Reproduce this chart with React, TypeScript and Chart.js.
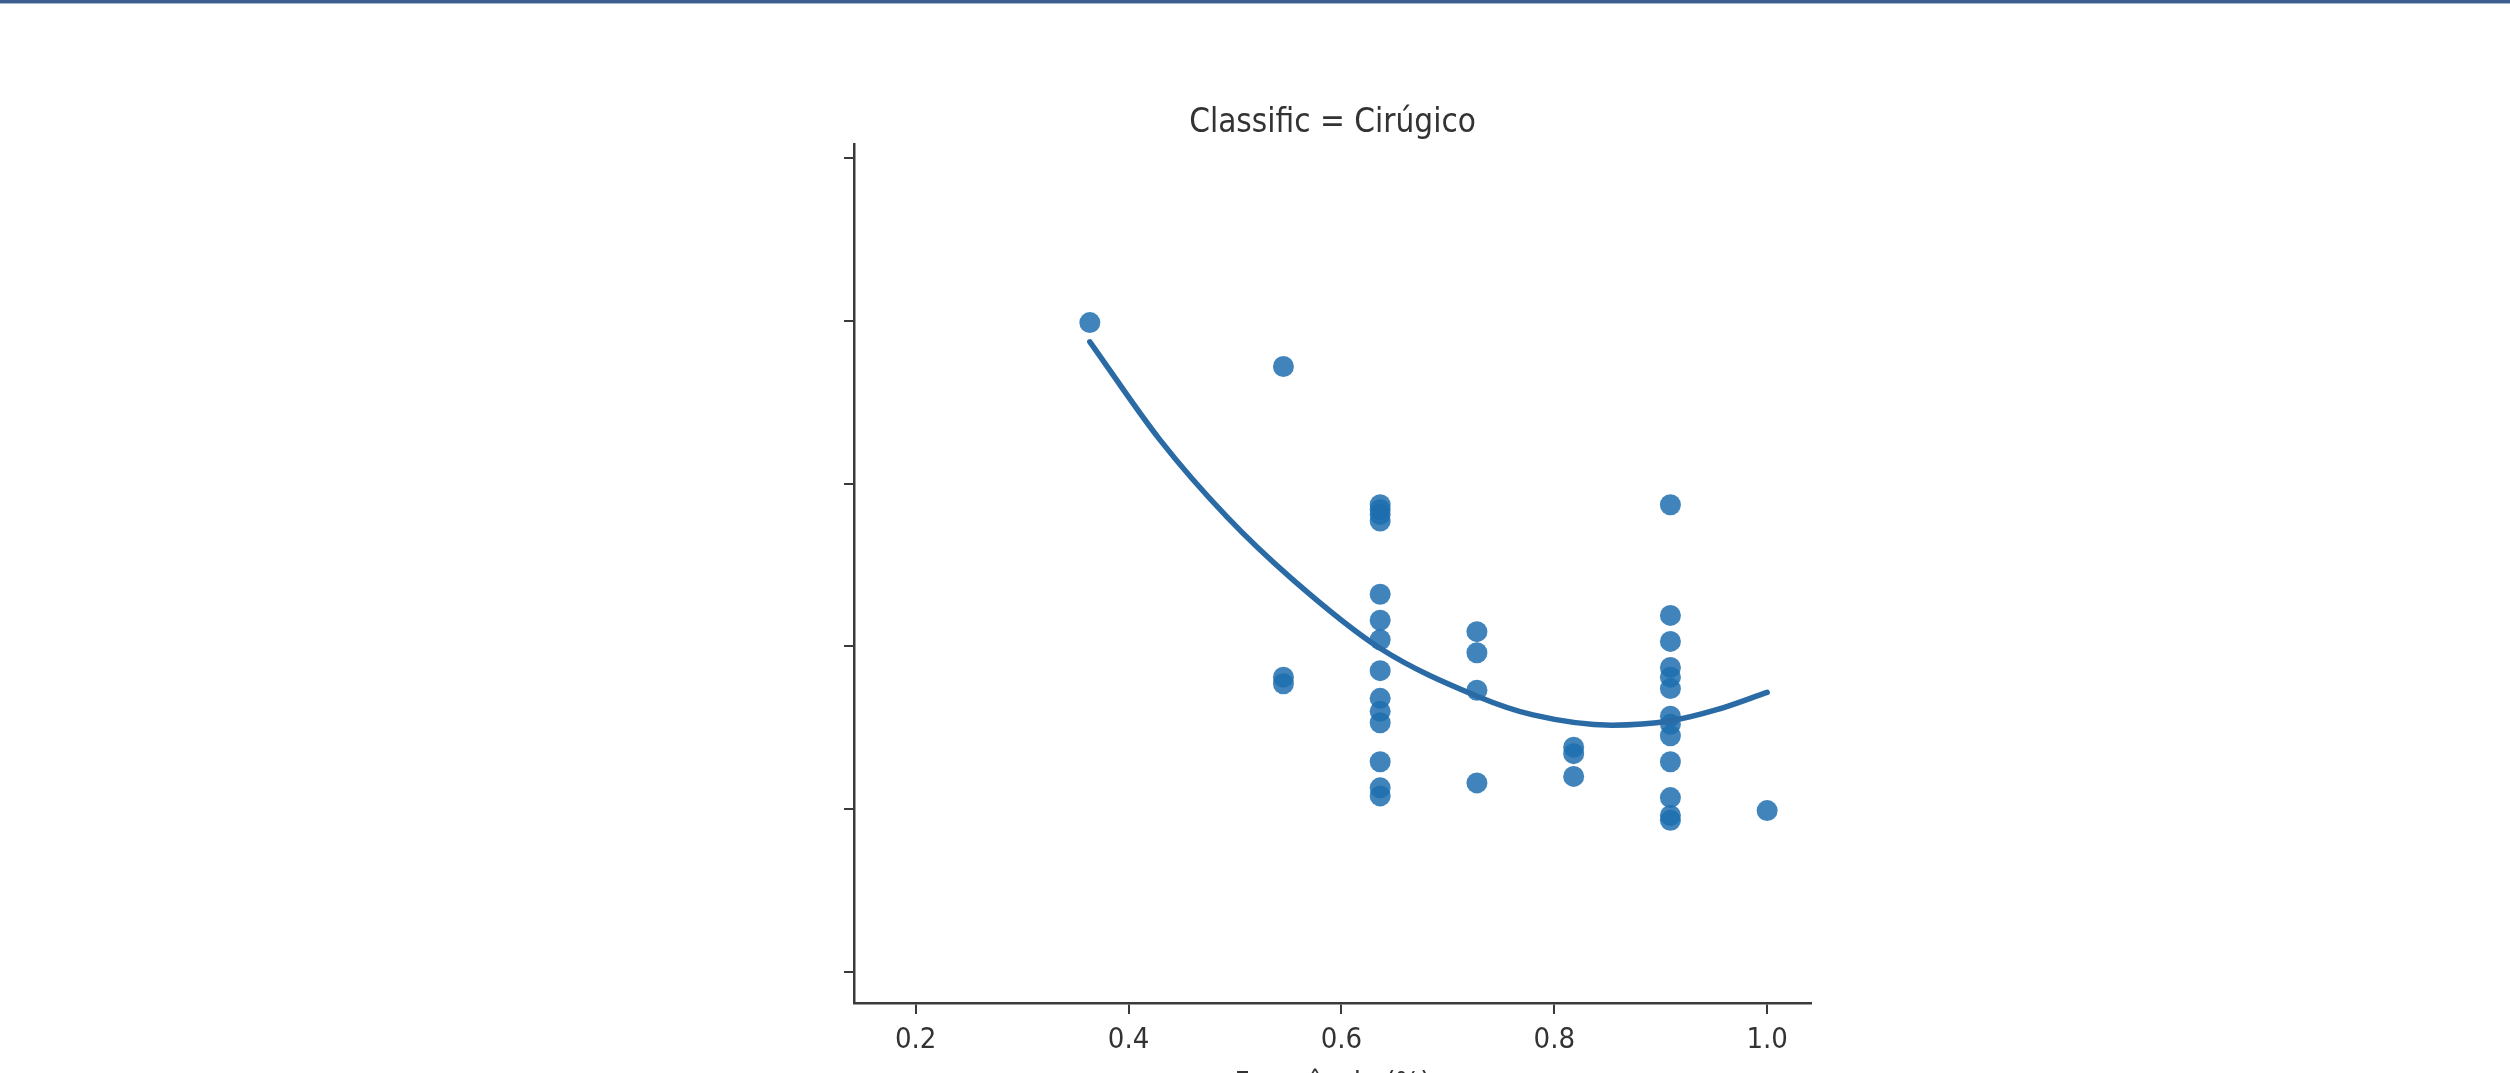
import React, { useEffect, useRef } from 'react';
import { Chart, registerables } from 'chart.js';

Chart.register(...registerables);

const titleText = 'Classific = Cirúgico';
const xAxisLabel = 'Frequência (%)';
const xTickValues = [0.2, 0.4, 0.6, 0.8, 1.0];
const yTickValues = [0, 10, 20, 30, 40, 50];

const pointX = [
  0.3636,
  0.5455, 0.5455, 0.5455,
  0.6364, 0.6364, 0.6364, 0.6364, 0.6364, 0.6364, 0.6364, 0.6364, 0.6364, 0.6364, 0.6364, 0.6364, 0.6364, 0.6364,
  0.7273, 0.7273, 0.7273, 0.7273,
  0.8182, 0.8182, 0.8182,
  0.9091, 0.9091, 0.9091, 0.9091, 0.9091, 0.9091, 0.9091, 0.9091, 0.9091, 0.9091, 0.9091, 0.9091, 0.9091,
  1.0,
];
const pointY = [
  39.9,
  37.2, 18.1, 17.7,
  28.7, 28.4, 28.1, 27.7, 23.2, 21.6, 20.4, 18.5, 16.8, 16.0, 15.3, 12.9, 11.3, 10.8,
  20.9, 19.6, 17.3, 11.6,
  13.8, 13.4, 12.0,
  28.7, 21.9, 20.3, 18.7, 18.1, 17.4, 15.7, 15.2, 14.5, 12.9, 10.7, 9.6, 9.3,
  9.9,
];

const fitX = [0.3636, 0.4295, 0.4922, 0.5548, 0.6363, 0.7286, 0.78, 0.854, 0.9094, 0.9526, 1.0];
const fitY = [38.72, 32.69, 27.97, 24.07, 19.88, 16.9, 15.78, 15.15, 15.42, 16.1, 17.17];

export default function App() {
  const ref = useRef<HTMLCanvasElement>(null);

  useEffect(() => {
    document.documentElement.style.overflow = 'hidden';
    document.body.style.margin = '0';
    const canvas = ref.current;
    if (!canvas) return;
    const family = "'DejaVu Sans Condensed', 'DejaVu Sans', sans-serif";
    const textColor = '#333333';
    const axisColor = '#3a3a3a';

    const chart = new Chart(canvas, {
      type: 'scatter',
      data: {
        datasets: [
          {
            type: 'line',
            data: fitX.map((x, i) => ({ x, y: fitY[i] })),
            borderColor: '#2a6ba5',
            borderWidth: 5.5,
            pointRadius: 0,
            cubicInterpolationMode: 'monotone',
            borderCapStyle: 'round',
            fill: false,
            order: 0,
          } as any,
          {
            type: 'scatter',
            data: pointX.map((x, i) => ({ x, y: pointY[i] })),
            backgroundColor: 'rgba(31,110,175,0.85)',
            borderWidth: 0,
            pointRadius: 10.5,
            order: 1,
          },
        ],
      },
      options: {
        animation: false,
        responsive: false,
        devicePixelRatio: 1,
        layout: { padding: { left: 794, right: 699, top: 0, bottom: 37 } },
        plugins: {
          legend: { display: false },
          tooltip: { enabled: false },
          title: {
            display: true,
            text: titleText,
            fullSize: false,
            color: textColor,
            font: { family, size: 33, weight: 'normal', lineHeight: 1.0 },
            padding: { top: 107, bottom: 4 },
          },
        },
        scales: {
          x: {
            type: 'linear',
            position: 'bottom',
            min: 0.142,
            max: 1.0412,
            afterBuildTicks: (s: any) => {
              s.ticks = xTickValues.map((v) => ({ value: v }));
            },
            afterFit: (s: any) => {
              s.height = 100;
            },
            grid: { drawOnChartArea: false, drawTicks: true, tickLength: 11, color: axisColor, lineWidth: 2 },
            border: { display: true, color: axisColor, width: 2.5 },
            ticks: {
              color: textColor,
              font: { family, size: 29 },
              padding: 9,
              maxRotation: 0,
              autoSkip: false,
              callback: (v: any) => Number(v).toFixed(1),
            },
            title: {
              display: true,
              text: xAxisLabel,
              color: textColor,
              font: { family, size: 29 },
              padding: { top: 0, bottom: 1.5 },
            },
          },
          y: {
            type: 'linear',
            position: 'left',
            min: -1.93,
            max: 50.88,
            afterBuildTicks: (s: any) => {
              s.ticks = yTickValues.map((v) => ({ value: v }));
            },
            afterFit: (s: any) => {
              s.width = 60;
            },
            grid: { drawOnChartArea: false, drawTicks: true, tickLength: 10, color: axisColor, lineWidth: 2 },
            border: { display: true, color: axisColor, width: 2.5 },
            ticks: { display: false },
          },
        },
      } as any,
    });

    return () => {
      chart.destroy();
    };
  }, []);

  return (
    <div style={{ position: 'relative', width: 2510, height: 1073, overflow: 'hidden', background: '#ffffff' }}>
      <canvas ref={ref} width={2510} height={1140} style={{ display: 'block', position: 'absolute', left: 0, top: 0 }} />
      <div style={{ position: 'absolute', left: 0, top: 0, width: 2510, height: 3, background: '#3d5d8c' }} />
      <div style={{ position: 'absolute', left: 0, top: 3, width: 2510, height: 1, background: '#a9b8cf' }} />
    </div>
  );
}
